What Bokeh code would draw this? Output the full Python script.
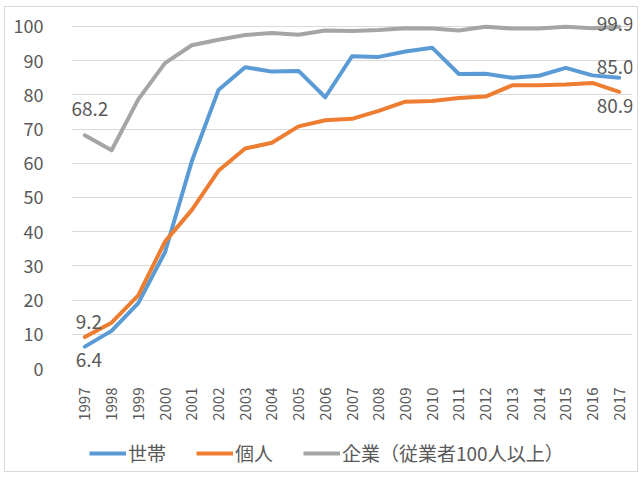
import math
from bokeh.plotting import figure
from bokeh.layouts import column
from bokeh.models import Range1d, FixedTicker, Legend, LegendItem, Label
from bokeh.embed import file_html
from bokeh.resources import INLINE

years = list(range(1997, 2018))
household = [6.4, 11.0, 19.1, 34.0, 60.5, 81.4, 88.1, 86.8, 87.0, 79.3, 91.3,
             91.1, 92.7, 93.8, 86.1, 86.2, 85.0, 85.6, 87.9, 85.7, 85.0]
individual = [9.2, 13.4, 21.4, 37.1, 46.3, 57.8, 64.3, 66.0, 70.8, 72.6, 73.0,
              75.3, 78.0, 78.2, 79.1, 79.5, 82.8, 82.8, 83.0, 83.5, 80.9]
enterprise = [68.2, 63.8, 78.7, 89.3, 94.5, 96.1, 97.5, 98.1, 97.6, 98.8, 98.7,
              99.0, 99.5, 99.4, 98.8, 99.9, 99.4, 99.4, 99.9, 99.5, 99.9]
series_names = ["世帯", "個人", "企業（従業者100人以上）"]
y_ticks = [0, 10, 20, 30, 40, 50, 60, 70, 80, 90, 100]

FONT = "Noto Sans CJK JP"
TXT = "#595959"
colors = ["#5B9BD5", "#ED7D31", "#A5A5A5"]

p = figure(width=632, height=416, output_backend="svg", toolbar_location=None,
           x_range=Range1d(1996.5, 2017.5), y_range=Range1d(0, 103.5),
           min_border_left=66, min_border_right=5, min_border_top=7,
           min_border_bottom=48)
p.outline_line_color = None

renderers = []
for vals, c in zip([household, individual, enterprise], colors):
    r = p.line(years, vals, line_color=c, line_width=4, line_join="round", line_cap="round")
    renderers.append(r)

p.xgrid.grid_line_color = None
p.ygrid.grid_line_color = "#d9d9d9"
p.ygrid.grid_line_width = 1
p.ygrid.ticker = FixedTicker(ticks=y_ticks)

p.yaxis.ticker = FixedTicker(ticks=y_ticks)
p.xaxis.ticker = FixedTicker(ticks=years)
for ax in (p.xaxis[0], p.yaxis[0]):
    ax.axis_line_color = None
    ax.major_tick_line_color = None
    ax.minor_tick_line_color = None
    ax.major_label_text_font = FONT
    ax.major_label_text_color = TXT
p.yaxis.major_label_text_font_size = "18px"
p.yaxis.major_label_standoff = 22
p.xaxis.major_label_text_font_size = "15px"
p.xaxis.major_label_orientation = math.pi / 2
p.xaxis.major_label_standoff = 13

def lab(x, y, text, yoff, xoff=0):
    p.add_layout(Label(x=x, y=y, text=text, x_offset=xoff, y_offset=yoff,
                       text_align="center", text_baseline="middle",
                       text_font=FONT, text_font_size="19px", text_color=TXT))

lab(years[0], enterprise[0], f"{enterprise[0]:.1f}", 26, 5)
lab(years[0], individual[0], f"{individual[0]:.1f}", 15, 4)
lab(years[0], household[0], f"{household[0]:.1f}", -13, 4)
lab(years[-1], enterprise[-1], f"{enterprise[-1]:.1f}", 3, -4)
lab(years[-1], household[-1], f"{household[-1]:.1f}", 11, -4)
lab(years[-1], individual[-1], f"{individual[-1]:.1f}", -14, -4)

# legend strip below the chart (keys drawn from the same series, outside its view)
p2 = figure(width=632, height=48, output_backend="svg", toolbar_location=None,
            x_range=Range1d(0, 1), y_range=Range1d(0, 1),
            x_axis_location=None, y_axis_location=None,
            min_border_left=0, min_border_right=0, min_border_top=0, min_border_bottom=0)
p2.outline_line_color = None
p2.xgrid.grid_line_color = None
p2.ygrid.grid_line_color = None
keys = [p2.line(years, vals, line_color=c, line_width=4)
        for vals, c in zip([household, individual, enterprise], colors)]
legend = Legend(items=[LegendItem(label=n, renderers=[r]) for n, r in zip(series_names, keys)],
                orientation="horizontal", location=(18, 5),
                label_text_font=FONT, label_text_font_size="19px", label_text_color=TXT,
                glyph_width=37, glyph_height=16, label_standoff=2, spacing=30,
                border_line_color=None, background_fill_alpha=0,
                margin=0, padding=0)
p2.add_layout(legend, "center")

layout = column(p, p2, spacing=0, margin=(6, 0, 0, 4),
                styles={"border": "1px solid #d9d9d9"})
open("out.html", "w").write(file_html(layout, INLINE))
